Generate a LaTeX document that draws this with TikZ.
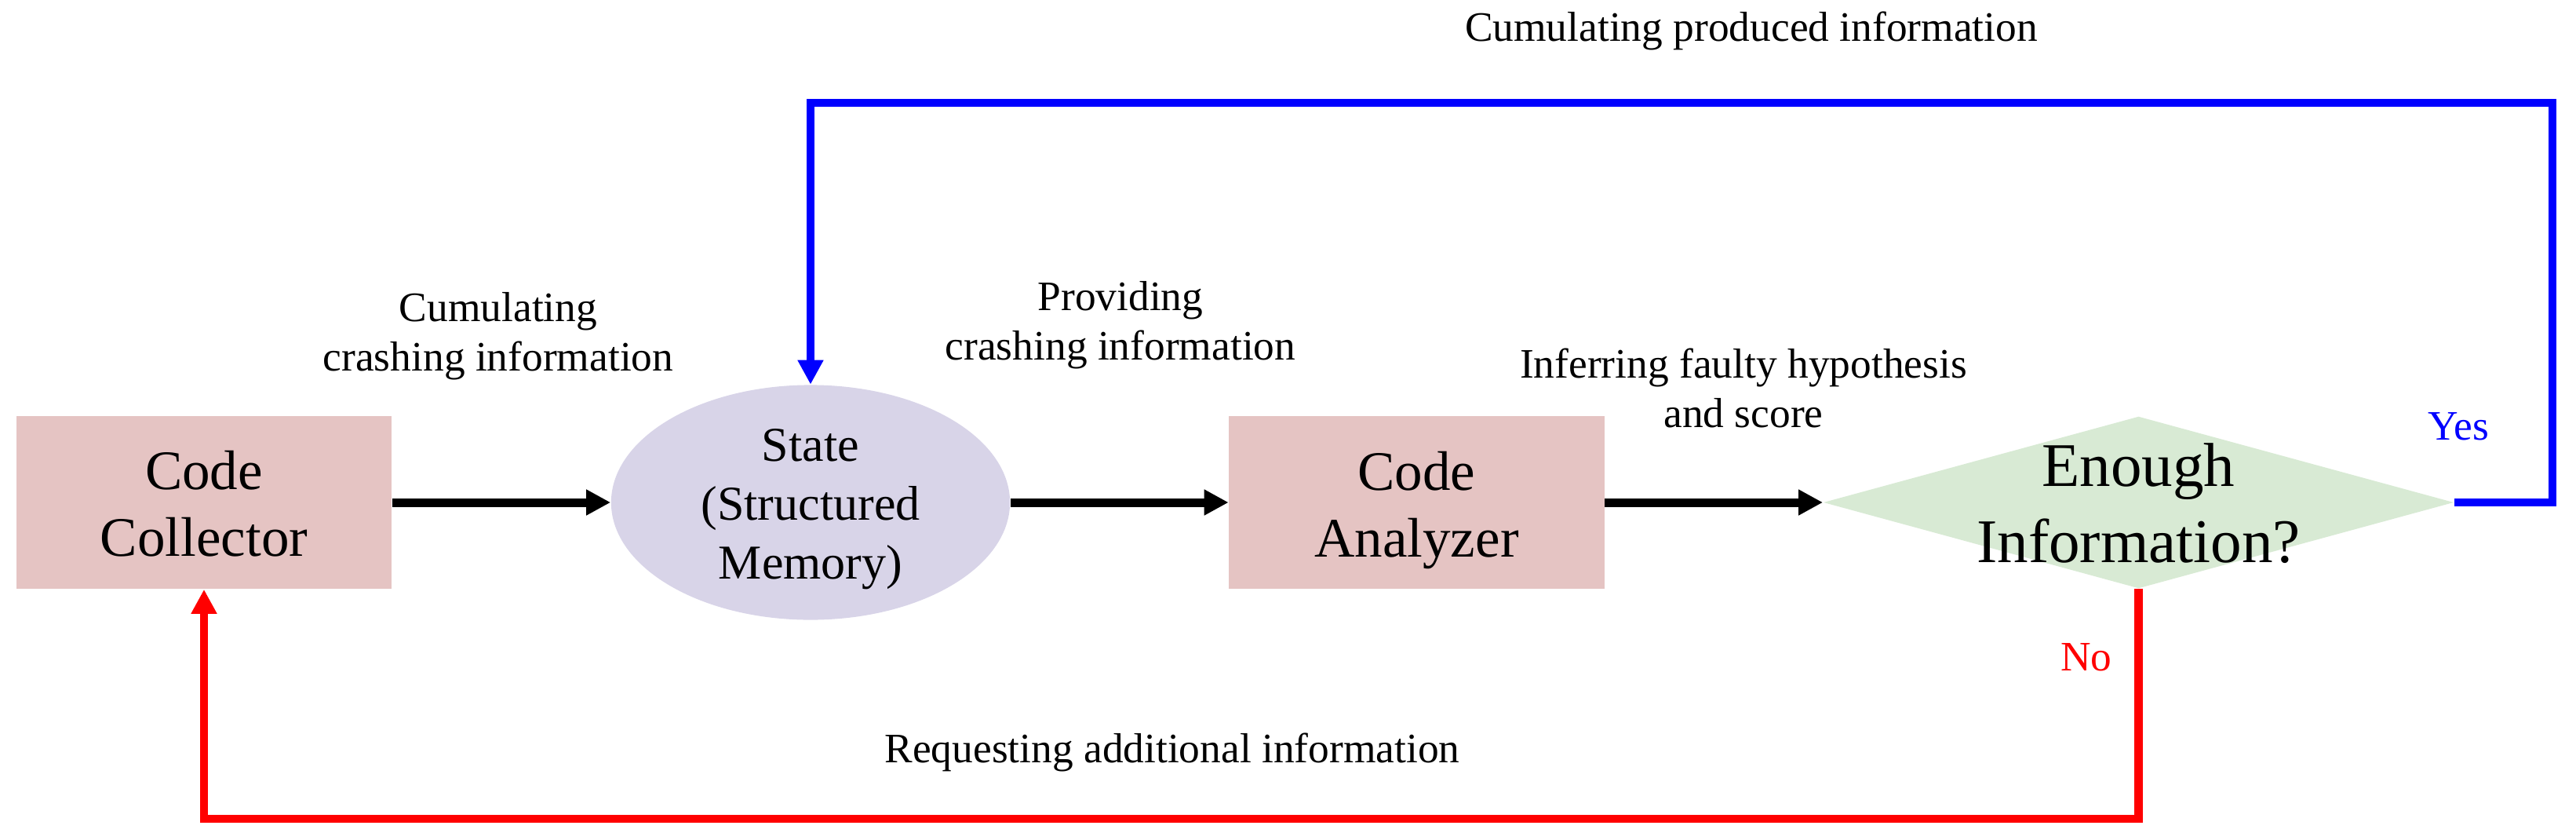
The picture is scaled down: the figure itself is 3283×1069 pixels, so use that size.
\documentclass[tikz,border=0pt]{standalone}
\usepackage{fontspec}
\setmainfont{Liberation Serif}
\usetikzlibrary{arrows.meta,shapes.geometric}
\definecolor{boxpink}{RGB}{229,196,195}
\definecolor{memlav}{RGB}{216,212,232}
\definecolor{decgreen}{RGB}{216,234,212}
\begin{document}
\begin{tikzpicture}[x=0.01cm,y=-0.01cm,
  box/.style={rectangle, fill=boxpink, minimum width=4.78cm, minimum height=2.2cm, inner sep=0pt},
  mem/.style={ellipse, fill=memlav, minimum width=5.08cm, minimum height=2.99cm, inner sep=0pt},
  decide/.style={diamond, fill=decgreen, minimum width=8.03cm, minimum height=2.19cm, inner sep=0pt},
  lbl/.style={font={\fontsize{15.19pt}{17.9pt}\selectfont}, align=center, inner sep=0pt},
  boxtxt/.style={font={\fontsize{20.2pt}{24.2pt}\selectfont}, align=center, inner sep=0pt},
  memtxt/.style={font={\fontsize{17.64pt}{21.34pt}\selectfont}, align=center, inner sep=0pt},
  dectxt/.style={font={\fontsize{22.48pt}{27.6pt}\selectfont}, align=center, inner sep=0pt},
  tip/.style={-{Triangle[length=3.1mm,width=3.1mm]}},
  flow/.style={tip, draw=black, line width=1.1mm},
  yesline/.style={tip, draw=blue, line width=1.05mm},
  noline/.style={tip, draw=red, line width=1.05mm}
]
\useasboundingbox (0,0) rectangle (3283,1069);

% shapes
\node[box] (coll) at (260,640) {};
\node[mem] (state) at (1033,640) {};
\node[box] (anal) at (1805.5,640) {};
\node[decide] (dec) at (2725.5,640) {};

% shape texts
\node[boxtxt] (colltext) at (260,642) {Code\\Collector};
\node[memtxt] (statetext) at (1033,649) {State\\(Structured\\Memory)};
\node[boxtxt] (analtext) at (1805.5,650) {Code\\Analyzer};
\node[dectxt] (dectext) at (2725.5,641.5) {Enough\\Information?};

% labels
\node[lbl] (lcum) at (635,428) {Cumulating\\crashing information};
\node[lbl] (lprov) at (1428,414) {Providing\\crashing information};
\node[lbl] (linf) at (2222,494) {Inferring faulty hypothesis\\and score};
\node[lbl, anchor=base] (ltop) at (2232,52) {Cumulating produced information};
\node[lbl, anchor=base] (lreq) at (1494,971) {Requesting additional information};
\node[lbl, anchor=base, text=blue] (lyes) at (3133,560) {Yes};
\node[lbl, anchor=base, text=red] (lno) at (2659,854) {No};

% connectors
\draw[flow] (coll.east) -- (state.west);
\draw[flow] (state.east) -- (anal.west);
\draw[flow] (anal.east) -- (dec.west);

\coordinate (ytop) at (3253,131);
\coordinate (nbot) at (0,1043);
\draw[yesline] (dec.east) -| (ytop) -| (state.north);
\draw[noline] (dec.south) -- (dec.south |- nbot) -| (coll.south);
\end{tikzpicture}
\end{document}
